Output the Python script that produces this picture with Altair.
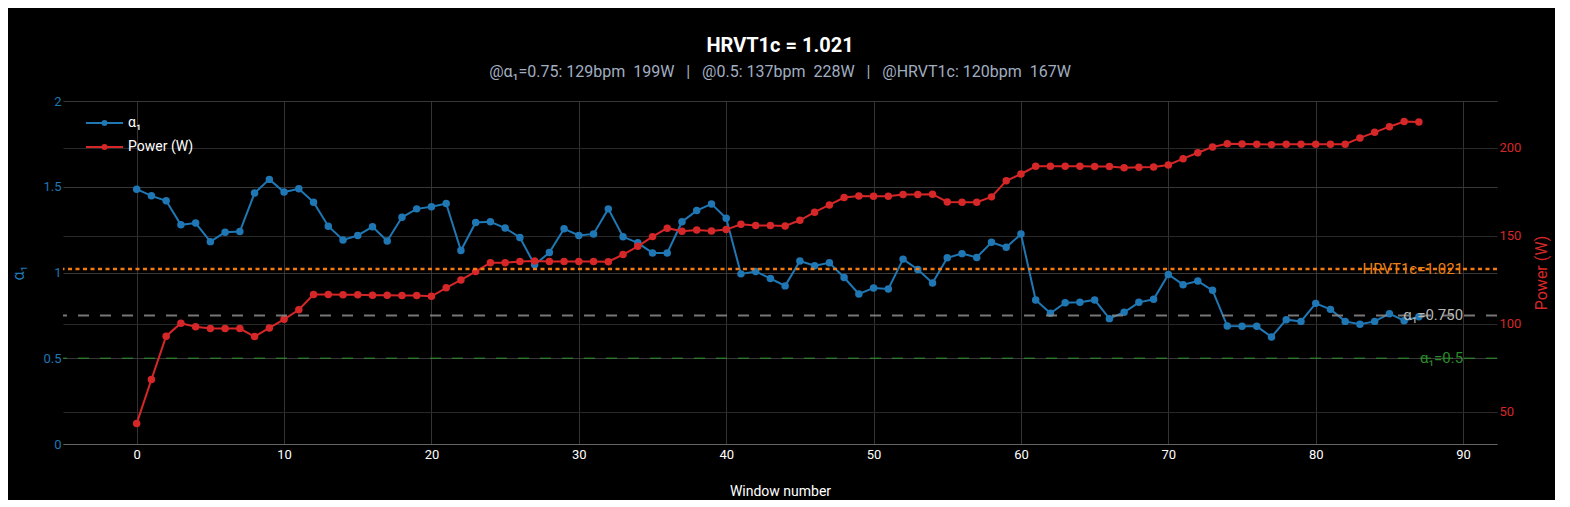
import altair as alt
import pandas as pd

window = list(range(88))
alpha = [1.486, 1.447, 1.418, 1.278, 1.288, 1.180, 1.235, 1.239, 1.463, 1.543,
         1.469, 1.488, 1.410, 1.270, 1.190, 1.216, 1.267, 1.184, 1.322, 1.371,
         1.384, 1.402, 1.128, 1.292, 1.296, 1.259, 1.204, 1.045, 1.116, 1.255,
         1.216, 1.225, 1.371, 1.208, 1.173, 1.114, 1.114, 1.296, 1.361, 1.400,
         1.316, 0.992, 1.006, 0.965, 0.922, 1.067, 1.039, 1.057, 0.971, 0.875,
         0.910, 0.904, 1.078, 1.018, 0.939, 1.086, 1.110, 1.088, 1.176, 1.147,
         1.224, 0.840, 0.762, 0.824, 0.826, 0.840, 0.731, 0.768, 0.826, 0.844,
         0.989, 0.929, 0.950, 0.896, 0.688, 0.686, 0.686, 0.624, 0.725, 0.715,
         0.820, 0.785, 0.715, 0.698, 0.715, 0.760, 0.719, 0.742]
power = [43.4, 68.4, 93.0, 100.4, 98.3, 97.3, 97.3, 97.3, 92.8, 97.7,
         102.6, 108.0, 116.7, 116.7, 116.5, 116.5, 116.3, 116.3, 116.1, 116.1,
         115.7, 120.5, 125.0, 129.7, 134.8, 134.8, 135.4, 135.8, 135.4, 135.4,
         135.4, 135.4, 135.3, 139.4, 144.1, 149.6, 154.4, 152.7, 153.4, 152.8,
         153.6, 156.6, 155.9, 155.9, 155.7, 158.9, 163.5, 167.6, 171.8, 172.7,
         172.5, 172.5, 173.5, 173.5, 173.7, 169.3, 169.2, 169.2, 172.2, 181.3,
         185.2, 189.6, 189.6, 189.6, 189.6, 189.4, 189.4, 188.8, 189.0, 189.2,
         190.3, 193.9, 197.3, 200.6, 202.4, 202.2, 202.1, 201.9, 202.1, 202.1,
         202.1, 202.1, 202.1, 205.7, 208.9, 212.1, 215.0, 214.8]

series_names = ["α₁", "Power (W)"]
series_colors = ["#1f77b4", "#d62728"]

ref_values = [1.021, 0.75, 0.5]
ref_labels = ["HRVT1c=1.021", "α₁=0.750", "α₁=0.5"]
ref_label_x = [90, 90, 90]
ref_line_colors = ["#ff7f0e", "#8c8c8c", "#2ca02c"]
ref_line_opacity = [0.95, 0.85, 0.6]
ref_text_colors = ["#e8801a", "#b8b8b8", "#2b8a2b"]
ref_dashes = [[4, 3.5], [11, 11], [11, 11]]
ref_widths = [2.5, 2, 1.5]

x_ticks = list(range(0, 91, 10))
alpha_ticks = [0, 0.5, 1, 1.5, 2]
power_ticks = [50, 100, 150, 200]

title_text = "HRVT1c = 1.021"
subtitle_text = ("@α₁=0.75: 129bpm\u00a0 199W\u00a0 \u00a0|\u00a0 \u00a0@0.5: 137bpm\u00a0 228W"
                 "\u00a0 \u00a0|\u00a0 \u00a0@HRVT1c: 120bpm\u00a0 167W")

FONT = "Roboto"
W, H = 1434, 343

df = pd.DataFrame({"window": window, "alpha": alpha, "power": power})
df["s_alpha"] = series_names[0]
df["s_power"] = series_names[1]

ref_df = pd.DataFrame({"value": ref_values, "label": ref_labels, "lx": ref_label_x})

legend_path = "M-1,0L6.4,0M3.1,0A0.4,0.4,0,1,1,2.3,0A0.4,0.4,0,1,1,3.1,0Z"
leg = alt.Legend(title=None, orient="none", legendX=21, legendY=15,
                 symbolType=legend_path, symbolSize=100, symbolStrokeWidth=2,
                 labelColor="white", labelFontSize=14, labelFont=FONT,
                 labelOffset=30, rowPadding=10, padding=0)
ser_scale = alt.Scale(domain=series_names, range=series_colors)

x_scale = alt.Scale(domain=[-5, 92.3], nice=False, zero=False)
x_enc = alt.X("window:Q", scale=x_scale,
              axis=alt.Axis(values=x_ticks, title="Window number", grid=True,
                            gridColor="#333333", ticks=False, domain=True,
                            domainColor="#666666", labelColor="white",
                            labelFontSize=13, labelPadding=4, labelFont=FONT,
                            titleColor="white", titleFontSize=14,
                            titleFontWeight="normal", titleFont=FONT,
                            titleX=W / 2, titleY=47, titleAlign="center",
                            titleBaseline="middle"))

y_alpha = alt.Y("alpha:Q", scale=alt.Scale(domain=[0, 2], nice=False),
                axis=alt.Axis(values=alpha_ticks, format="~g", orient="left",
                              title="α₁", grid=True, gridColor="#383838",
                              domain=False, ticks=False, labelColor="#1f77b4",
                              labelFontSize=13, labelPadding=2, labelFont=FONT,
                              titleColor="#1f77b4", titleFontSize=16,
                              titleFontWeight="normal", titleFont=FONT,
                              titleX=-45, titleY=H / 2, titleAngle=270,
                              titleAlign="center", titleBaseline="middle"))

y_power = alt.Y("power:Q", scale=alt.Scale(domain=[31.7, 226.7], nice=False, zero=False),
                axis=alt.Axis(values=power_ticks, orient="right",
                              title="Power (W)", grid=True, gridColor="#282828",
                              domain=False, ticks=False, labelColor="#d62728",
                              labelFontSize=13, labelPadding=2, labelFont=FONT,
                              titleColor="#d62728", titleFontSize=16,
                              titleFontWeight="normal", titleFont=FONT,
                              titleX=44, titleY=H / 2, titleAngle=270,
                              titleAlign="center", titleBaseline="middle"))

base = alt.Chart(df)

alpha_layer = alt.layer(
    base.mark_line(color=series_colors[0], strokeWidth=2).encode(x=x_enc, y=y_alpha),
    base.mark_point(filled=True, size=30, opacity=1).encode(
        x=x_enc, y=y_alpha,
        fill=alt.Fill("s_alpha:N", scale=ser_scale, legend=leg),
        stroke=alt.Stroke("s_alpha:N", scale=ser_scale, legend=leg)),
)

power_layer = alt.layer(
    base.mark_line(color=series_colors[1], strokeWidth=2).encode(x=x_enc, y=y_power),
    base.mark_point(filled=True, size=30, opacity=1).encode(
        x=x_enc, y=y_power,
        fill=alt.Fill("s_power:N", scale=ser_scale, legend=leg),
        stroke=alt.Stroke("s_power:N", scale=ser_scale, legend=leg)),
)

y_ref_scale = alt.Scale(domain=[0, 2], nice=False)
ref_parts = []
for i in range(len(ref_values)):
    one = alt.Chart(ref_df.iloc[[i]])
    ref_parts.append(
        one.mark_rule(color=ref_line_colors[i], opacity=ref_line_opacity[i],
                      strokeDash=ref_dashes[i], strokeWidth=ref_widths[i]).encode(
            y=alt.Y("value:Q", scale=y_ref_scale, axis=None))
    )
    ref_parts.append(
        one.mark_text(color=ref_text_colors[i], align="right", baseline="middle",
                      fontSize=15, font=FONT).encode(
            x=alt.X("lx:Q", scale=x_scale),
            y=alt.Y("value:Q", scale=y_ref_scale, axis=None),
            text="label:N")
    )
ref_layer = alt.layer(*ref_parts)

chart = alt.layer(alpha_layer, power_layer, ref_layer).resolve_scale(
    y="independent"
).properties(
    width=W, height=H,
    autosize=alt.AutoSizeParams(type="none"),
    padding={"left": 55, "top": 93, "right": 58, "bottom": 56},
    title=alt.TitleParams(text=title_text, subtitle=subtitle_text, color="white",
                          fontSize=20, fontWeight="bold", font=FONT,
                          subtitleColor="#a0aec0", subtitleFontSize=16,
                          subtitleFont=FONT, anchor="middle", offset=15,
                          subtitlePadding=8),
).configure(background="black", font=FONT).configure_view(stroke=None)

chart.save("out.html", embed_options={"renderer": "svg", "actions": False})
